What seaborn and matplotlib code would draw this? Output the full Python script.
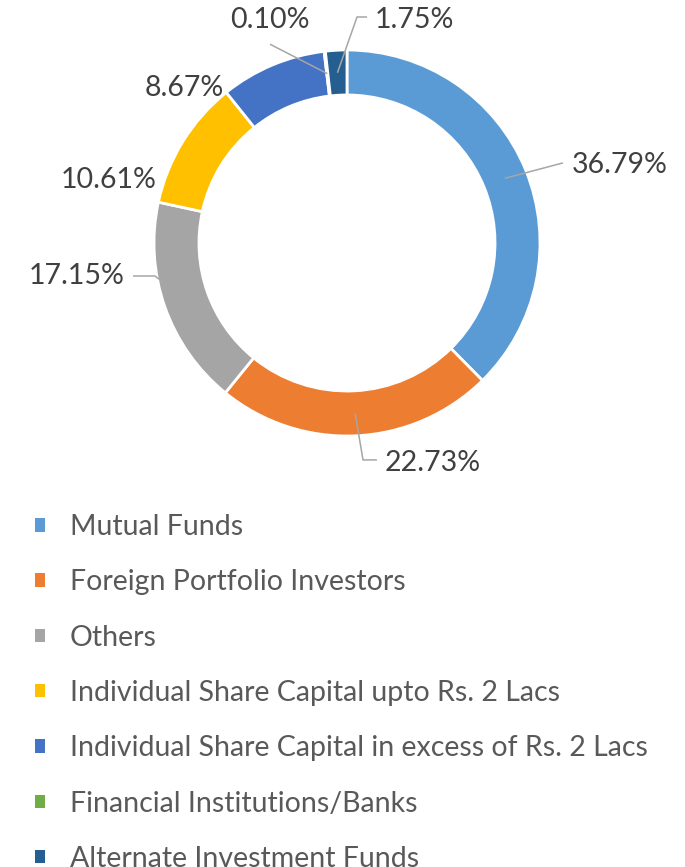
import numpy as np
import seaborn as sns
import matplotlib.pyplot as plt
from matplotlib.patches import Patch

# shareholding pattern data
categories = ["Mutual Funds", "Foreign Portfolio Investors", "Others",
              "Individual Share Capital upto Rs. 2 Lacs",
              "Individual Share Capital in excess of Rs. 2 Lacs",
              "Financial Institutions/Banks", "Alternate Investment Funds"]
shares = [36.79, 22.73, 17.15, 10.61, 8.67, 0.10, 1.75]
colors = ["#5B9BD5", "#ED7D31", "#A5A5A5", "#FFC000", "#4472C4", "#70AD47", "#255E91"]

# label placement (data units, pie radius = 1) and leader knee/end points (None = no leader)
label_pos = [(1.166, 0.404, "left"), (0.197, -1.140, "left"), (-1.150, -0.171, "right"),
             (-0.984, 0.326, "right"), (-0.637, 0.803, "right"), (-0.399, 1.155, "center"),
             (0.145, 1.155, "left")]
leaders = [[(1.119, 0.415)], [(0.083, -1.124), (0.155, -1.124)],
           [(-0.995, -0.171), (-1.109, -0.171)], None, None,
           [(-0.399, 1.030)], [(0.052, 1.171), (0.104, 1.171)]]

sns.set_theme(style="white")
plt.rcParams["font.family"] = ["Lato", "DejaVu Sans"]

W, H = 685, 867
fig = plt.figure(figsize=(W / 100, H / 100), dpi=100)
cx, cy, r = 347, 243, 193
ax = fig.add_axes([(cx - r) / W, (H - cy - r) / H, 2 * r / W, 2 * r / H])

ring = 0.233
wedges, _ = ax.pie(shares, colors=colors, startangle=90, counterclock=False,
                   radius=1, wedgeprops=dict(width=ring, edgecolor="white", linewidth=2))
ax.set_xlim(-1, 1)
ax.set_ylim(-1, 1)
ax.set_aspect("equal")
ax.axis("off")

mid_r = 1 - ring / 2
for w, val, (tx, ty, ha), lead in zip(wedges, shares, label_pos, leaders):
    ang = np.deg2rad((w.theta1 + w.theta2) / 2)
    if lead is not None:
        pts = [(mid_r * np.cos(ang), mid_r * np.sin(ang))] + lead
        xs, ys = zip(*pts)
        ax.plot(xs, ys, color="#A6A6A6", lw=1.1, clip_on=False, solid_capstyle="butt")
    ax.text(tx, ty, f"{val:.2f}%", ha=ha, va="center", fontsize=20.5,
            color="#404040", clip_on=False)

handles = [Patch(facecolor=c, edgecolor="none") for c in colors]
fig.legend(handles, categories, loc="upper left", bbox_to_anchor=(35 / W, 1 - 514 / H),
           frameon=False, fontsize=20.5, labelcolor="#595959", handlelength=0.35,
           handleheight=0.35, handletextpad=0.88, labelspacing=1.03, borderaxespad=0,
           borderpad=0)

fig.savefig("out.png", dpi=100, facecolor="white")
